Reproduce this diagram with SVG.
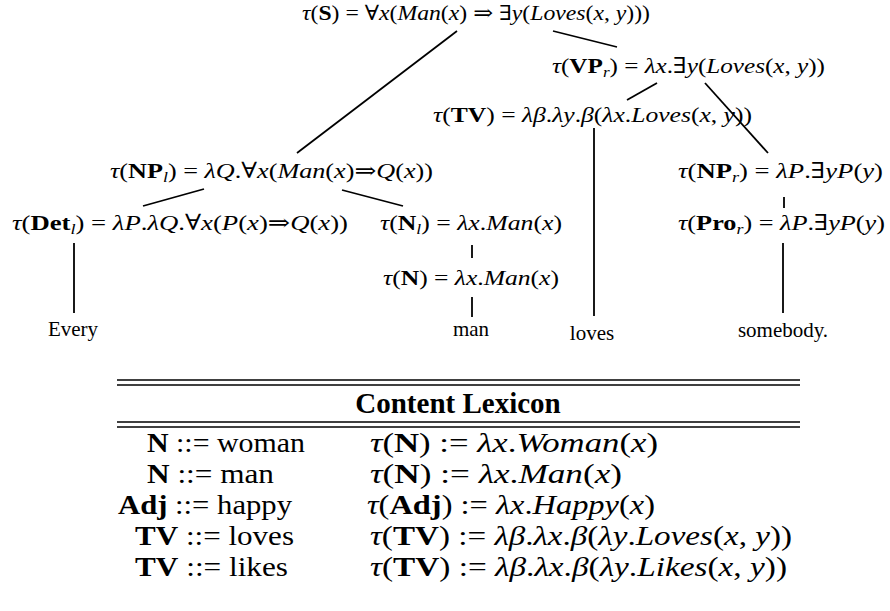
<svg xmlns="http://www.w3.org/2000/svg" width="890" height="611" viewBox="0 0 890 611">
  <style>
    text { font-family: "Liberation Serif", "Times New Roman", "DejaVu Serif", serif; fill: #000; }
    .f { font-size: 22px; }
    .top { font-size: 21px; }
    .w { font-size: 21px; }
    .tb { font-size: 28px; }
    .hd { font-size: 29px; font-weight: bold; }
    .it { font-style: italic; }
    .b { font-weight: bold; }
    .sub { font-size: 15px; font-style: italic; }
    .edge { stroke: #000; stroke-width: 1.8; fill: none; stroke-linecap: butt; }
    .rule { stroke: #000; stroke-width: 1.3; }
  </style>

  <!-- tree edges -->
  <g id="connectors">
    <line class="edge" x1="457" y1="31" x2="297" y2="153"/>
    <line class="edge" x1="553" y1="31" x2="617" y2="47"/>
    <line class="edge" x1="657" y1="83" x2="627" y2="100"/>
    <line class="edge" x1="705" y1="83" x2="768" y2="153"/>
    <line class="edge" x1="594" y1="128" x2="594" y2="316"/>
    <line class="edge" x1="204" y1="189" x2="143" y2="206"/>
    <line class="edge" x1="342" y1="190" x2="403" y2="206"/>
    <line class="edge" x1="784" y1="197" x2="784" y2="208"/>
    <line class="edge" x1="74" y1="243" x2="74" y2="313"/>
    <line class="edge" x1="472" y1="245" x2="472" y2="258"/>
    <line class="edge" x1="472" y1="297" x2="472" y2="317"/>
    <line class="edge" x1="783" y1="243" x2="783" y2="313"/>
  </g>

  <!-- tree nodes -->
  <g id="node-S">
    <text class="top" x="302" y="20" textLength="348" lengthAdjust="spacingAndGlyphs"><tspan class="it">τ</tspan>(<tspan class="b">S</tspan>) = ∀<tspan class="it">x</tspan>(<tspan class="it">Man</tspan>(<tspan class="it">x</tspan>) ⇒ ∃<tspan class="it">y</tspan>(<tspan class="it">Loves</tspan>(<tspan class="it">x</tspan>, <tspan class="it">y</tspan>)))</text>
  </g>
  <g id="node-VPr">
    <text class="f" x="552" y="73" textLength="273" lengthAdjust="spacingAndGlyphs"><tspan class="it">τ</tspan>(<tspan class="b">VP</tspan><tspan class="sub" dy="4">r</tspan><tspan dy="-4">) = </tspan><tspan class="it">λx</tspan>.∃<tspan class="it">y</tspan>(<tspan class="it">Loves</tspan>(<tspan class="it">x</tspan>, <tspan class="it">y</tspan>))</text>
  </g>
  <g id="node-TV">
    <text class="f" x="433" y="122" textLength="319" lengthAdjust="spacingAndGlyphs"><tspan class="it">τ</tspan>(<tspan class="b">TV</tspan>) = <tspan class="it">λβ</tspan>.<tspan class="it">λy</tspan>.<tspan class="it">β</tspan>(<tspan class="it">λx</tspan>.<tspan class="it">Loves</tspan>(<tspan class="it">x</tspan>, <tspan class="it">y</tspan>))</text>
  </g>
  <g id="node-NPl">
    <text class="f" x="110" y="178" textLength="323" lengthAdjust="spacingAndGlyphs"><tspan class="it">τ</tspan>(<tspan class="b">NP</tspan><tspan class="sub" dy="4">l</tspan><tspan dy="-4">) = </tspan><tspan class="it">λQ</tspan>.∀<tspan class="it">x</tspan>(<tspan class="it">Man</tspan>(<tspan class="it">x</tspan>)⇒<tspan class="it">Q</tspan>(<tspan class="it">x</tspan>))</text>
  </g>
  <g id="node-NPr">
    <text class="f" x="678" y="178" textLength="205" lengthAdjust="spacingAndGlyphs"><tspan class="it">τ</tspan>(<tspan class="b">NP</tspan><tspan class="sub" dy="4">r</tspan><tspan dy="-4">) = </tspan><tspan class="it">λP</tspan>.∃<tspan class="it">yP</tspan>(<tspan class="it">y</tspan>)</text>
  </g>
  <g id="node-Detl">
    <text class="f" x="12" y="230" textLength="336" lengthAdjust="spacingAndGlyphs"><tspan class="it">τ</tspan>(<tspan class="b">Det</tspan><tspan class="sub" dy="4">l</tspan><tspan dy="-4">) = </tspan><tspan class="it">λP</tspan>.<tspan class="it">λQ</tspan>.∀<tspan class="it">x</tspan>(<tspan class="it">P</tspan>(<tspan class="it">x</tspan>)⇒<tspan class="it">Q</tspan>(<tspan class="it">x</tspan>))</text>
  </g>
  <g id="node-Nl">
    <text class="f" x="380" y="230" textLength="182" lengthAdjust="spacingAndGlyphs"><tspan class="it">τ</tspan>(<tspan class="b">N</tspan><tspan class="sub" dy="4">l</tspan><tspan dy="-4">) = </tspan><tspan class="it">λx</tspan>.<tspan class="it">Man</tspan>(<tspan class="it">x</tspan>)</text>
  </g>
  <g id="node-Pror">
    <text class="f" x="678" y="230" textLength="207" lengthAdjust="spacingAndGlyphs"><tspan class="it">τ</tspan>(<tspan class="b">Pro</tspan><tspan class="sub" dy="4">r</tspan><tspan dy="-4">) = </tspan><tspan class="it">λP</tspan>.∃<tspan class="it">yP</tspan>(<tspan class="it">y</tspan>)</text>
  </g>
  <g id="node-N">
    <text class="f" x="383" y="285" textLength="176" lengthAdjust="spacingAndGlyphs"><tspan class="it">τ</tspan>(<tspan class="b">N</tspan>) = <tspan class="it">λx</tspan>.<tspan class="it">Man</tspan>(<tspan class="it">x</tspan>)</text>
  </g>

  <!-- leaves -->
  <g id="leaf-every"><text class="w" x="73" y="336" text-anchor="middle">Every</text></g>
  <g id="leaf-man"><text class="w" x="471" y="336" text-anchor="middle">man</text></g>
  <g id="leaf-loves"><text class="w" x="592" y="340" text-anchor="middle">loves</text></g>
  <g id="leaf-somebody"><text class="w" x="783" y="337" text-anchor="middle">somebody.</text></g>

  <!-- lexicon table -->
  <g id="lexicon">
    <line class="rule" x1="117" y1="380" x2="800" y2="380"/>
    <line class="rule" x1="117" y1="385" x2="800" y2="385"/>
    <text class="hd" x="458" y="413" text-anchor="middle">Content Lexicon</text>
    <line class="rule" x1="117" y1="422" x2="800" y2="422"/>
    <line class="rule" x1="117" y1="427" x2="800" y2="427"/>

    <g id="row-woman">
      <text class="tb" x="147" y="452" textLength="158" lengthAdjust="spacingAndGlyphs"><tspan class="b">N</tspan> ::= woman</text>
      <text class="tb" x="370" y="452" textLength="288" lengthAdjust="spacingAndGlyphs"><tspan class="it">τ</tspan>(<tspan class="b">N</tspan>) := <tspan class="it">λx</tspan>.<tspan class="it">Woman</tspan>(<tspan class="it">x</tspan>)</text>
    </g>
    <g id="row-man">
      <text class="tb" x="147" y="483" textLength="127" lengthAdjust="spacingAndGlyphs"><tspan class="b">N</tspan> ::= man</text>
      <text class="tb" x="370" y="483" textLength="252" lengthAdjust="spacingAndGlyphs"><tspan class="it">τ</tspan>(<tspan class="b">N</tspan>) := <tspan class="it">λx</tspan>.<tspan class="it">Man</tspan>(<tspan class="it">x</tspan>)</text>
    </g>
    <g id="row-happy">
      <text class="tb" x="118" y="514" textLength="174" lengthAdjust="spacingAndGlyphs"><tspan class="b">Adj</tspan> ::= happy</text>
      <text class="tb" x="367" y="514" textLength="288" lengthAdjust="spacingAndGlyphs"><tspan class="it">τ</tspan>(<tspan class="b">Adj</tspan>) := <tspan class="it">λx</tspan>.<tspan class="it">Happy</tspan>(<tspan class="it">x</tspan>)</text>
    </g>
    <g id="row-loves">
      <text class="tb" x="135" y="545" textLength="159" lengthAdjust="spacingAndGlyphs"><tspan class="b">TV</tspan> ::= loves</text>
      <text class="tb" x="370" y="545" textLength="422" lengthAdjust="spacingAndGlyphs"><tspan class="it">τ</tspan>(<tspan class="b">TV</tspan>) := <tspan class="it">λβ</tspan>.<tspan class="it">λx</tspan>.<tspan class="it">β</tspan>(<tspan class="it">λy</tspan>.<tspan class="it">Loves</tspan>(<tspan class="it">x</tspan>, <tspan class="it">y</tspan>))</text>
    </g>
    <g id="row-likes">
      <text class="tb" x="135" y="576" textLength="153" lengthAdjust="spacingAndGlyphs"><tspan class="b">TV</tspan> ::= likes</text>
      <text class="tb" x="370" y="576" textLength="417" lengthAdjust="spacingAndGlyphs"><tspan class="it">τ</tspan>(<tspan class="b">TV</tspan>) := <tspan class="it">λβ</tspan>.<tspan class="it">λx</tspan>.<tspan class="it">β</tspan>(<tspan class="it">λy</tspan>.<tspan class="it">Likes</tspan>(<tspan class="it">x</tspan>, <tspan class="it">y</tspan>))</text>
    </g>
  </g>
</svg>
